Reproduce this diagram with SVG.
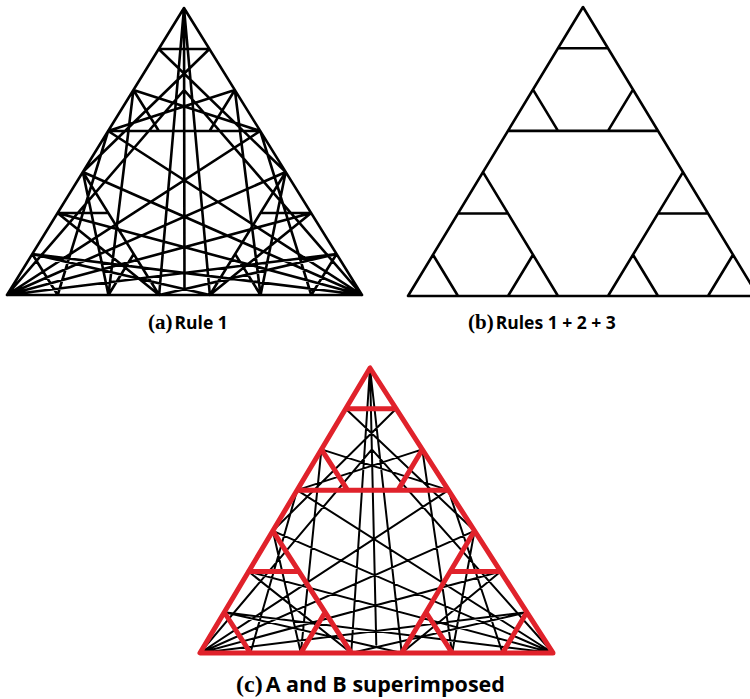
<svg xmlns="http://www.w3.org/2000/svg" width="750" height="699" viewBox="0 0 750 699">
<style>
.lbl{font-family:"Liberation Serif","Times New Roman",serif;font-weight:bold;font-size:21px;fill:#000}
.cap{font-family:"Open Sans","Liberation Sans",Arial,sans-serif;font-weight:bold;font-size:17.5px;fill:#000}
.lbl2{font-family:"Liberation Serif","Times New Roman",serif;font-weight:bold;font-size:24px;fill:#000}
.cap2{font-family:"Open Sans","Liberation Sans",Arial,sans-serif;font-weight:bold;font-size:21.5px;fill:#000}
.ln{fill:none;stroke-linecap:round;stroke-linejoin:round}
</style>
<defs>
<path id="net" class="ln" vector-effect="non-scaling-stroke" d="M0 0L0 7L7 7Z M0 1L1 1 M0 3L3 3 M0 2L1 3 M2 2L2 3 M0 4L3 7 M4 4L4 7 M0 5L1 5 M0 6L1 7 M2 6L2 7 M4 5L5 5 M4 6L5 7 M6 6L6 7 M3 7L0 0L4 7 M0 0L3 6 M0 0L3.4 6.8 M0 7L3 3 M0 7L4 4 M0 7L5 5 M0 7L6 6 M0 7L1 2 M7 7L0 3 M7 7L0 4 M7 7L0 5 M7 7L0 6 M7 7L1 2 M0 1L4 4 M1 1L0 4 M1 7L0 3 M6 7L3 3 M6 6L3 7 M0 6L4 7 M0 4L2 7 M4 4L5 7 M4 7L5 5 M3 7L0 5 M3 3L0 2 M0 3L2 2 M0 2L2 7 M2 2L5 7"/>
<path id="sier" class="ln" vector-effect="non-scaling-stroke" d="M0 0L0 7L7 7Z M0 1L1 1 M0 3L3 3 M0 2L1 3 M2 2L2 3 M0 4L3 7 M4 4L4 7 M0 5L1 5 M0 6L1 7 M2 6L2 7 M4 5L5 5 M4 6L5 7 M6 6L6 7"/>
</defs>
<g id="panel-a">
<use href="#net" transform="matrix(50.714 0 -25.286 41 184 8)" stroke="#000" stroke-width="2.6"/>
<text x="148" y="329"><tspan class="lbl">(a)</tspan><tspan class="cap" dx="2">Rule 1</tspan></text>
</g>
<g id="panel-b">
<use href="#sier" transform="matrix(50 0 -25 41.286 583 7)" stroke="#000" stroke-width="2.6"/>
<text x="468" y="329"><tspan class="lbl">(b)</tspan><tspan class="cap" dx="2">Rules 1 + 2 + 3</tspan></text>
</g>
<g id="panel-c">
<use href="#net" transform="matrix(50.43 0 -24.29 40.71 370 368)" stroke="#000" stroke-width="2"/>
<use href="#sier" transform="matrix(50.43 0 -24.29 40.71 370 368)" stroke="#e0222b" stroke-width="5"/>
<text x="236" y="692"><tspan class="lbl2">(c)</tspan><tspan class="cap2" dx="3">A and B superimposed</tspan></text>
</g>
</svg>
